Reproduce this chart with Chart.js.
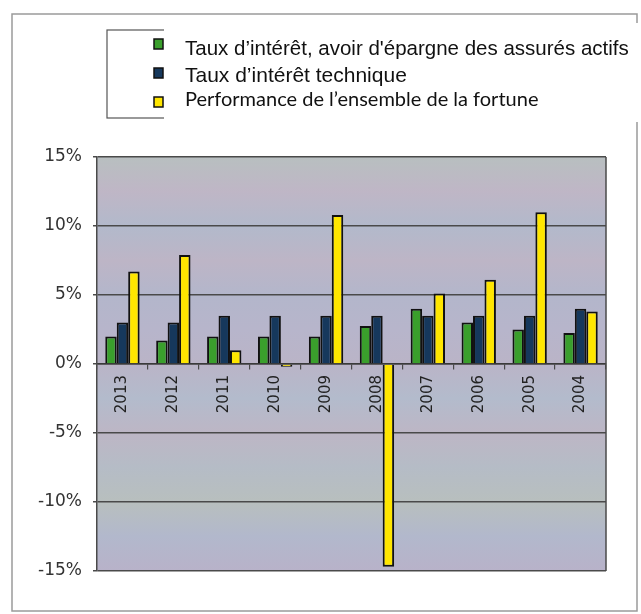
<!DOCTYPE html>
<html>
<head>
<meta charset="utf-8">
<script src="https://cdn.jsdelivr.net/npm/chart.js@4"></script>
<style>
  body { margin: 0; background: #fff; }
  #wrap { width: 641px; height: 614px; }
</style>
</head>
<body>
<div id="wrap"><canvas id="grafico" width="641" height="614"></canvas></div>
<script>
// donnees (en %)
const annees = ['2013', '2012', '2011', '2010', '2009', '2008', '2007', '2006', '2005', '2004'];
const tauxEpargne = [2.0, 1.7, 2.0, 2.0, 2.0, 2.75, 4.0, 3.0, 2.5, 2.25];
const tauxTechnique = [3.0, 3.0, 3.5, 3.5, 3.5, 3.5, 3.5, 3.5, 3.5, 4.0];
const performance = [6.7, 7.9, 1.0, -0.2, 10.8, -14.7, 5.1, 6.1, 11.0, 3.8];
const ticksY = [-15, -10, -5, 0, 5, 10, 15];

const libelles = [
  'Taux d\u2019intérêt, avoir d\'épargne des assurés actifs',
  'Taux d\u2019intérêt technique',
  'Performance de l\u2019ensemble de la fortune'
];
const couleurs = ['#3a9f2c', '#16385c', '#ffe600'];
const policesLegende = ['20.5px "Liberation Sans"', '21px "Liberation Sans"', '20px Lato'];

// fond du graphique, cadre et legende
const decor = {
  id: 'decor',
  beforeDraw(chart) {
    const ctx = chart.ctx;
    const a = chart.chartArea;
    ctx.save();
    ctx.fillStyle = '#fff';
    ctx.fillRect(0, 0, chart.width, chart.height);
    // cadre exterieur
    ctx.strokeStyle = '#9a9a9a';
    ctx.lineWidth = 1.5;
    ctx.strokeRect(12, 14, 625, 597);
    // fond de la zone de tracé
    const g = ctx.createLinearGradient(0, a.top, 0, a.bottom);
    const stops = ['#b8bfc0', '#bfb6c6', '#b2b9cb', '#bdb5c6', '#b3b6cb', '#b7b5cb',
                   '#bab4c7', '#b3bbcc', '#bdb6c5', '#b5bcc6', '#b8bfbe', '#b2b8cc', '#b8b2c9'];
    stops.forEach((c, i) => g.addColorStop(i / (stops.length - 1), c));
    ctx.fillStyle = g;
    ctx.fillRect(a.left, a.top, a.right - a.left, a.bottom - a.top);
    ctx.restore();
  },
  beforeDatasetsDraw(chart) {
    const ctx = chart.ctx;
    const a = chart.chartArea;
    ctx.save();
    ctx.strokeStyle = '#4a4a4a';
    ctx.lineWidth = 1.5;
    ctx.beginPath();
    ctx.moveTo(a.right, a.top);
    ctx.lineTo(a.right, a.bottom);
    ctx.stroke();
    ctx.restore();
  },
  afterDraw(chart) {
    const ctx = chart.ctx;
    ctx.save();
    // boite de legende d'origine, recouverte en partie
    ctx.strokeStyle = '#555';
    ctx.lineWidth = 1.2;
    ctx.strokeRect(107, 30, 200, 88);
    ctx.fillStyle = '#fff';
    ctx.fillRect(164, 23, 477, 99);
    const yMarques = [39, 68, 97];
    const yTextes = [55, 82, 106];
    chart.data.datasets.forEach((ds, i) => {
      ctx.fillStyle = ds.backgroundColor;
      ctx.strokeStyle = '#111';
      ctx.lineWidth = 1.5;
      ctx.fillRect(154, yMarques[i], 9, 10);
      ctx.strokeRect(154, yMarques[i], 9, 10);
      ctx.fillStyle = '#111';
      ctx.font = policesLegende[i];
      ctx.textBaseline = 'alphabetic';
      ctx.fillText(ds.label, 185, yTextes[i]);
    });
    ctx.restore();
  }
};

const series = [tauxEpargne, tauxTechnique, performance];

const ctx = document.querySelector('#grafico').getContext('2d');
const miGrafico = new Chart(ctx, {
  type: 'bar',
  data: {
    labels: annees,
    datasets: series.map((valeurs, i) => ({
      label: libelles[i],
      data: valeurs,
      backgroundColor: couleurs[i],
      borderColor: '#111',
      borderWidth: 2,
      categoryPercentage: 0.675,
      barPercentage: 1.0
    }))
  },
  options: {
    responsive: false,
    animation: false,
    layout: { padding: { left: 0, top: 157, right: 35, bottom: 43 } },
    plugins: {
      legend: { display: false },
      tooltip: { enabled: false }
    },
    scales: {
      x: {
        position: { y: 0 },
        afterFit: (s) => { s.height = 0; },
        grid: {
          offset: true,
          drawOnChartArea: false,
          drawTicks: true,
          tickLength: 5,
          color: '#4a4a4a',
          lineWidth: 1.2
        },
        border: { display: true, color: '#3a3a3a', width: 1.5 },
        ticks: {
          minRotation: 90,
          maxRotation: 90,
          padding: 6,
          color: '#222',
          font: { family: '"DejaVu Sans"', size: 15 }
        }
      },
      y: {
        min: -15,
        max: 15,
        afterFit: (s) => { s.width = 97; },
        afterBuildTicks: (s) => { s.ticks = ticksY.map(v => ({ value: v })); },
        grid: {
          color: '#4a4a4a',
          lineWidth: 1.5,
          drawTicks: true,
          tickLength: 4
        },
        border: { display: true, color: '#4a4a4a', width: 1.5 },
        ticks: {
          padding: 11,
          color: '#333',
          font: { family: '"DejaVu Sans"', size: 17 },
          callback: (v) => v + '%'
        }
      }
    }
  },
  plugins: [decor]
});
</script>
</body>
</html>
